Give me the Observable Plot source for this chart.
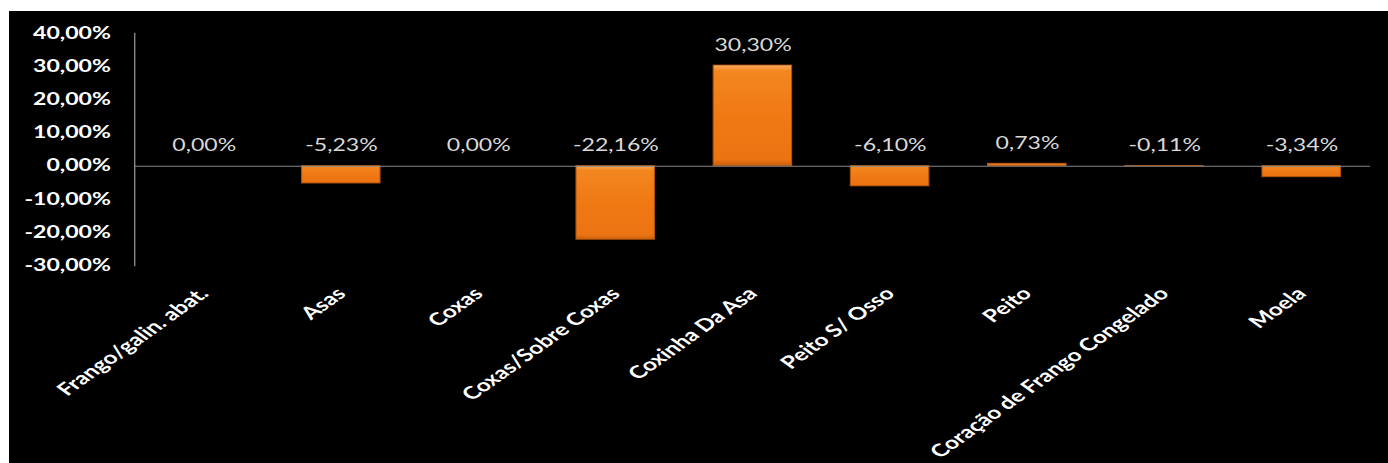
<!DOCTYPE html>
<html>
<head>
<meta charset="utf-8">
<script src="https://cdn.jsdelivr.net/npm/d3@7"></script>
<script src="https://cdn.jsdelivr.net/npm/@observablehq/plot@0.6"></script>
<style>
  html, body { margin: 0; padding: 0; background: #ffffff; }
  #chart { position: absolute; left: 9px; top: 11px; width: 1379px; height: 452px; background: #000; overflow: hidden; }
  #chart svg { transform: scaleX(1.4); transform-origin: 0 0; display: block; }
</style>
</head>
<body>
<div id="chart"></div>
<script>
const categories = ["Frango/galin. abat.", "Asas", "Coxas", "Coxas/Sobre Coxas", "Coxinha Da Asa", "Peito S/ Osso", "Peito", "Coração de Frango Congelado", "Moela"];
const values = [0, -5.23, 0, -22.16, 30.30, -6.10, 0.73, -0.11, -3.34];
const valueLabels = ["0,00%", "-5,23%", "0,00%", "-22,16%", "30,30%", "-6,10%", "0,73%", "-0,11%", "-3,34%"];
const yTicks = [40, 30, 20, 10, 0, -10, -20, -30];

const data = categories.map((c, i) => ({cat: c, v: values[i], label: valueLabels[i]}));
const fmt = d => d.toFixed(2).replace(".", ",") + "%";

const S = 1.4;
const W = 1379 / S;

const gradient = () => {
  const defs = d3.create("svg:defs");
  const g = defs.append("linearGradient").attr("id", "barGrad")
    .attr("x1", 0).attr("y1", 0).attr("x2", 0).attr("y2", 1);
  g.append("stop").attr("offset", "0%").attr("stop-color", "#F9AC62");
  g.append("stop").attr("offset", "6%").attr("stop-color", "#F3871F");
  g.append("stop").attr("offset", "50%").attr("stop-color", "#F07914");
  g.append("stop").attr("offset", "94%").attr("stop-color", "#EC7312");
  g.append("stop").attr("offset", "100%").attr("stop-color", "#C9600C");
  return defs.node();
};

const chart = Plot.plot({
  width: W,
  height: 452,
  marginTop: 21.8,
  marginBottom: 197.7,
  marginLeft: 125 / S,
  marginRight: 18 / S,
  style: {background: "#000", color: "#fff", fontFamily: "Lato, 'Open Sans', sans-serif", overflow: "visible"},
  x: {domain: categories, paddingInner: 0.425, paddingOuter: 0.2125, label: null},
  y: {domain: [-30, 40], label: null},
  marks: [
    gradient,
    Plot.barY(data, {x: "cat", y: "v", fill: "url(#barGrad)", stroke: "#B0560C", strokeWidth: 0.8}),
    Plot.ruleY([0], {stroke: "#868686", strokeWidth: 1}),
    Plot.frame({anchor: "left", stroke: "#868686"}),
    Plot.text(data, {x: "cat", y: d => Math.max(d.v, 0), text: "label", dy: -20, lineAnchor: "middle", fill: "#D9D9D9", fontSize: 16.5}),
    Plot.axisY({ticks: yTicks, tickFormat: fmt, tickSize: 0, tickPadding: 17, fontSize: 16.5, fontWeight: "bold", fill: "#fff", label: null}),
    Plot.axisX({tickRotate: -45, tickSize: 0, tickPadding: 25, fontSize: 17.5, fontWeight: "bold", fill: "#fff", label: null})
  ]
});
document.getElementById("chart").appendChild(chart);
</script>
</body>
</html>
